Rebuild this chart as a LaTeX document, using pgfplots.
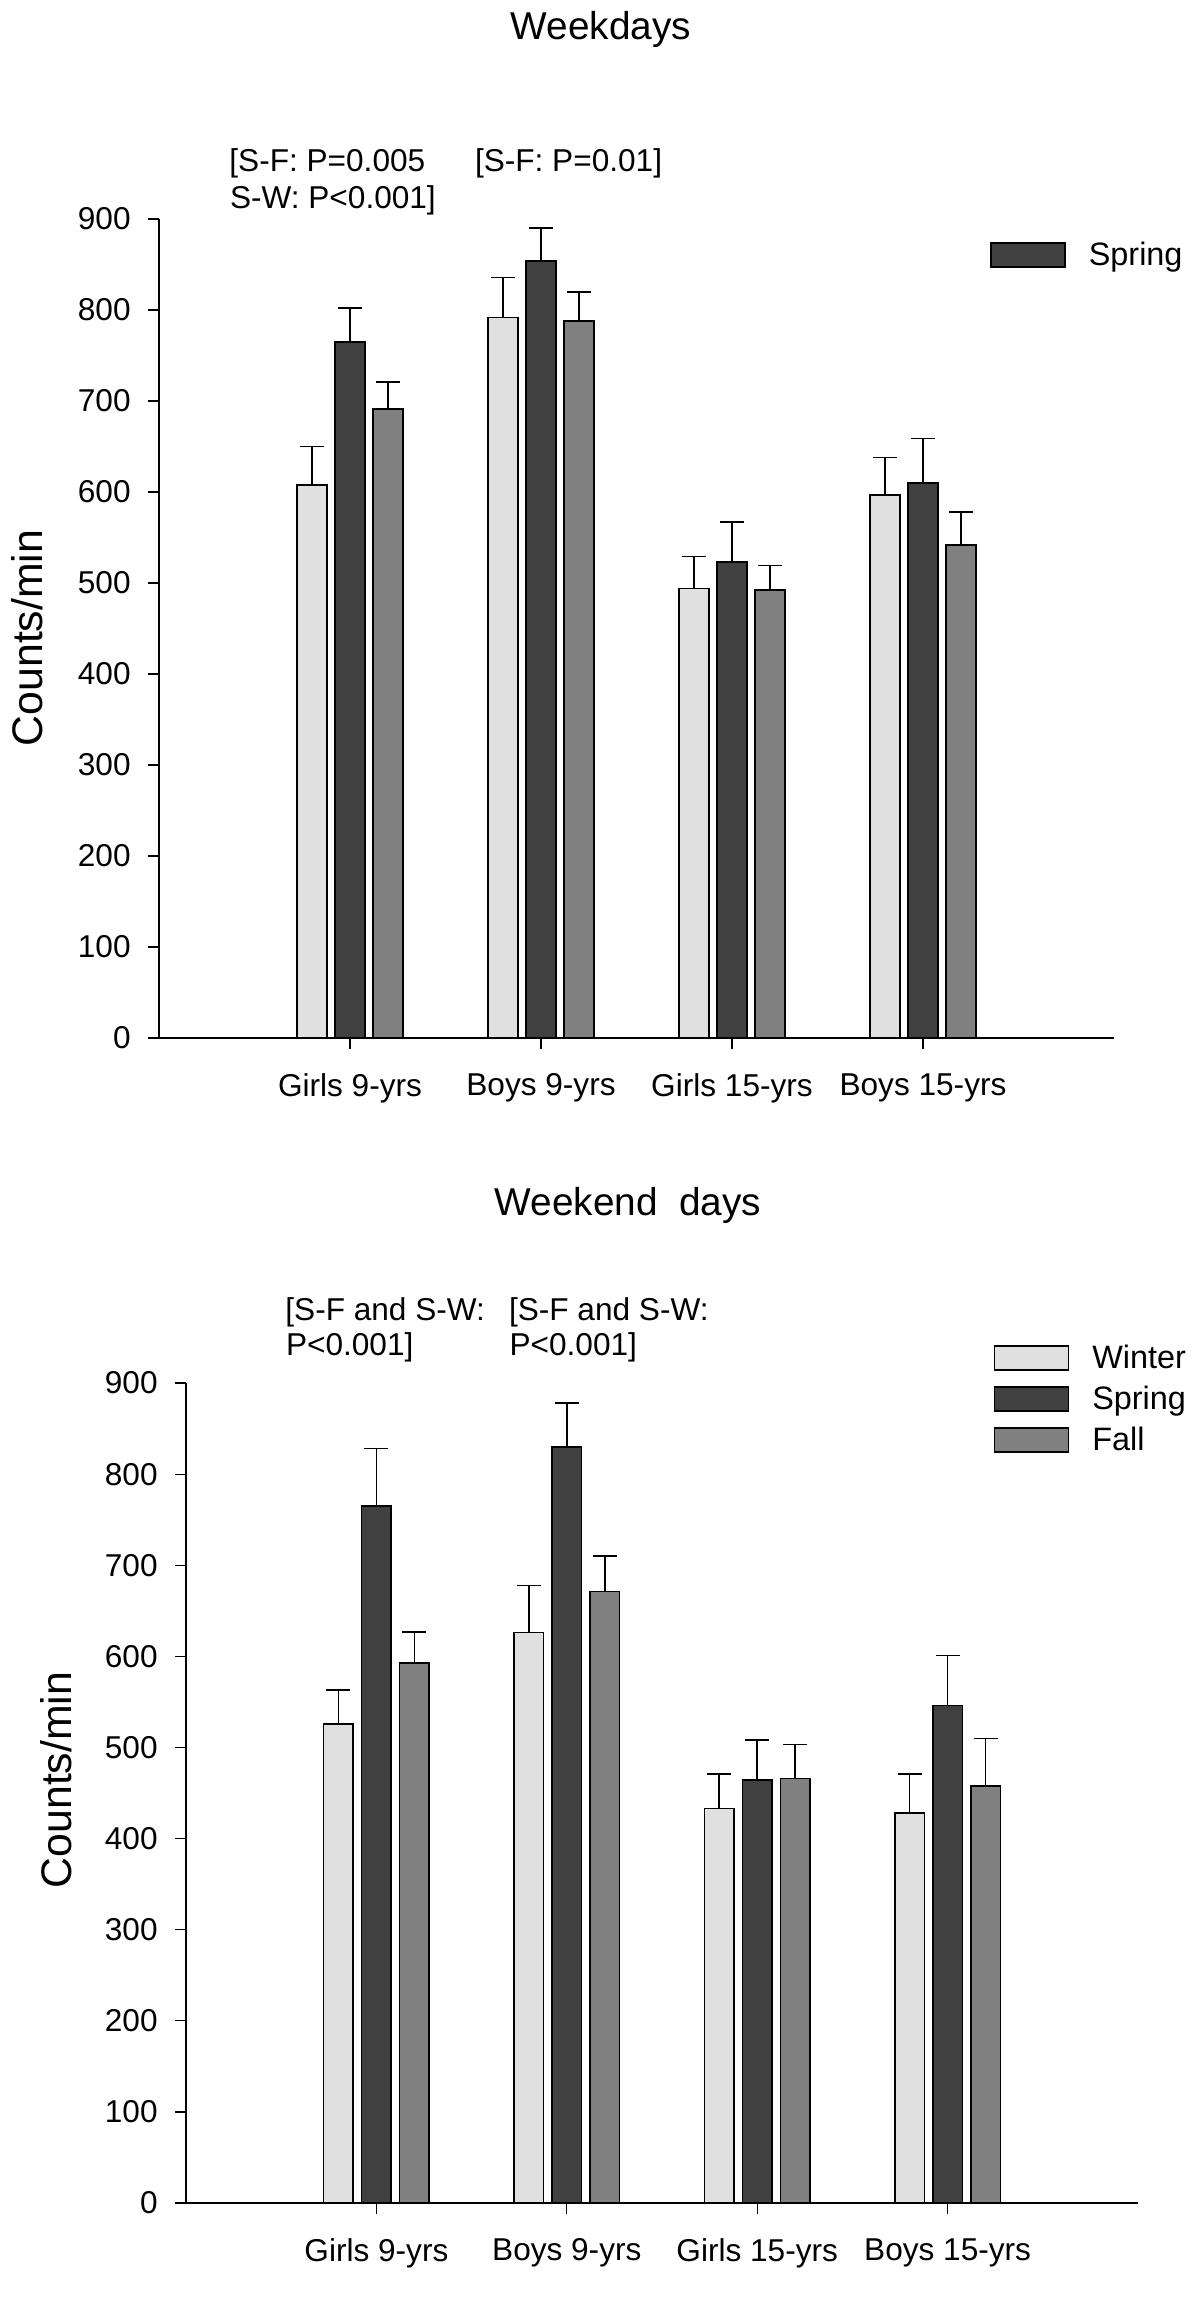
\documentclass[border=0pt]{standalone}
\usepackage{fontspec}
\setmainfont{Liberation Sans}
\usepackage{pgfplots}
\pgfplotsset{compat=1.18}
\definecolor{cwin}{gray}{0.88}
\definecolor{cspr}{gray}{0.25}
\definecolor{cfal}{gray}{0.5}
\pgfplotsset{
 mybars/.style={
  scale only axis, xmin=0, xmax=5, ymin=0, ymax=900,
  axis lines=left, axis line style={-},
  x axis line style={line width=1.1pt}, y axis line style={line width=0.6pt},
  xtick={1,2,3,4}, xticklabels={Girls 9-yrs, Boys 9-yrs, Girls 15-yrs, Boys 15-yrs},
  ytick={0,100,...,900},
  tick align=outside, major tick length=5.5pt, tick style={black, line width=0.6pt},
  /pgf/number format/assume math mode=true,
  ticklabel style={font=\fontsize{15.8}{18}\selectfont},
  yticklabel style={inner sep=0pt, xshift=-8.5pt},
  xticklabel style={inner sep=0pt, yshift=-12.2pt},
  ybar, bar width=14.8pt,
  clip=false,
  legend style={draw=none, fill=none, inner sep=0pt, font=\fontsize{16.2}{19}\selectfont, nodes={inner sep=0pt}, column sep=11.5pt, row sep=7.3pt, legend cell align=left},
 },
 limg/.style={legend image code/.code={\draw[##1, line width=0.8pt] (0pt,-6pt) rectangle (37pt,6pt);}},
 bw/.style={fill=cwin, draw=black, line width=0.8pt, bar shift=-19pt, limg},
 bs/.style={fill=cspr, draw=black, line width=0.8pt, bar shift=0pt, limg},
 bf/.style={fill=cfal, draw=black, line width=0.8pt, bar shift=19pt, limg},
 eb/.style={error bars/.cd, y dir=plus, y explicit, error bar style={line width=0.75pt, black}, error mark=|, error mark options={mark size=6pt, line width=0.75pt, black}}
}
\begin{document}
\begin{tikzpicture}
\useasboundingbox (0pt,0pt) rectangle (600pt,-1150.5pt);
% ---------- Weekdays ----------
\node[anchor=base, font=\fontsize{19.4}{23}\selectfont] at (300.5pt,-20pt) {Weekdays};
\node[anchor=base west, inner sep=0pt, font=\fontsize{15.8}{19}\selectfont] at (114.5pt,-86pt) {[S-F: P=0.005};
\node[anchor=base west, inner sep=0pt, font=\fontsize{15.8}{19}\selectfont] at (114.8pt,-104.3pt) {S-W: P<0.001]};
\node[anchor=base west, inner sep=0pt, font=\fontsize{15.8}{19}\selectfont] at (237.3pt,-86pt) {[S-F: P=0.01]};
\node[anchor=base, rotate=90, inner sep=0pt, font=\fontsize{21.4}{25}\selectfont] at (21pt,-319pt) {Counts/min};
\begin{axis}[mybars, width=477.5pt, height=409.5pt, at={(79.5pt,-519pt)}, anchor=south west,
  legend style={at={(0.870,0.956)}, anchor=west}]
\addplot[bw, forget plot, eb] coordinates {(1,608) +- (0,42) (2,792) +- (0,44) (3,494) +- (0,35) (4,597) +- (0,41)};
\addplot[bs, eb] coordinates {(1,765) +- (0,37) (2,854) +- (0,36) (3,523) +- (0,44) (4,610) +- (0,49)};
\addlegendentry{Spring}
\addplot[bf, forget plot, eb] coordinates {(1,691) +- (0,30) (2,788) +- (0,32) (3,492) +- (0,27) (4,542) +- (0,36)};
\end{axis}
% ---------- Weekend days ----------
\node[anchor=base, font=\fontsize{19.4}{23}\selectfont] at (314pt,-607.5pt) {Weekend~~days};
\node[anchor=base west, inner sep=0pt, font=\fontsize{15.8}{19}\selectfont] at (142.5pt,-660pt) {[S-F and S-W:};
\node[anchor=base west, inner sep=0pt, font=\fontsize{15.8}{19}\selectfont] at (142.8pt,-677.8pt) {P<0.001]};
\node[anchor=base west, inner sep=0pt, font=\fontsize{15.8}{19}\selectfont] at (254.3pt,-660pt) {[S-F and S-W:};
\node[anchor=base west, inner sep=0pt, font=\fontsize{15.8}{19}\selectfont] at (254.6pt,-677.8pt) {P<0.001]};
\node[anchor=base, rotate=90, inner sep=0pt, font=\fontsize{21.4}{25}\selectfont] at (35.5pt,-890pt) {Counts/min};
\begin{axis}[mybars, width=476pt, height=410pt, at={(93pt,-1101.5pt)}, anchor=south west,
  legend style={at={(0.848,1.047)}, anchor=north west}]
\addplot[bw, eb] coordinates {(1,526) +- (0,37) (2,626) +- (0,52) (3,433) +- (0,38) (4,428) +- (0,43)};
\addlegendentry{Winter}
\addplot[bs, eb] coordinates {(1,765) +- (0,63) (2,830) +- (0,48) (3,464) +- (0,44) (4,546) +- (0,55)};
\addlegendentry{Spring}
\addplot[bf, eb] coordinates {(1,593) +- (0,34) (2,671) +- (0,39) (3,466) +- (0,37) (4,458) +- (0,52)};
\addlegendentry{Fall}
\end{axis}
\end{tikzpicture}
\end{document}
